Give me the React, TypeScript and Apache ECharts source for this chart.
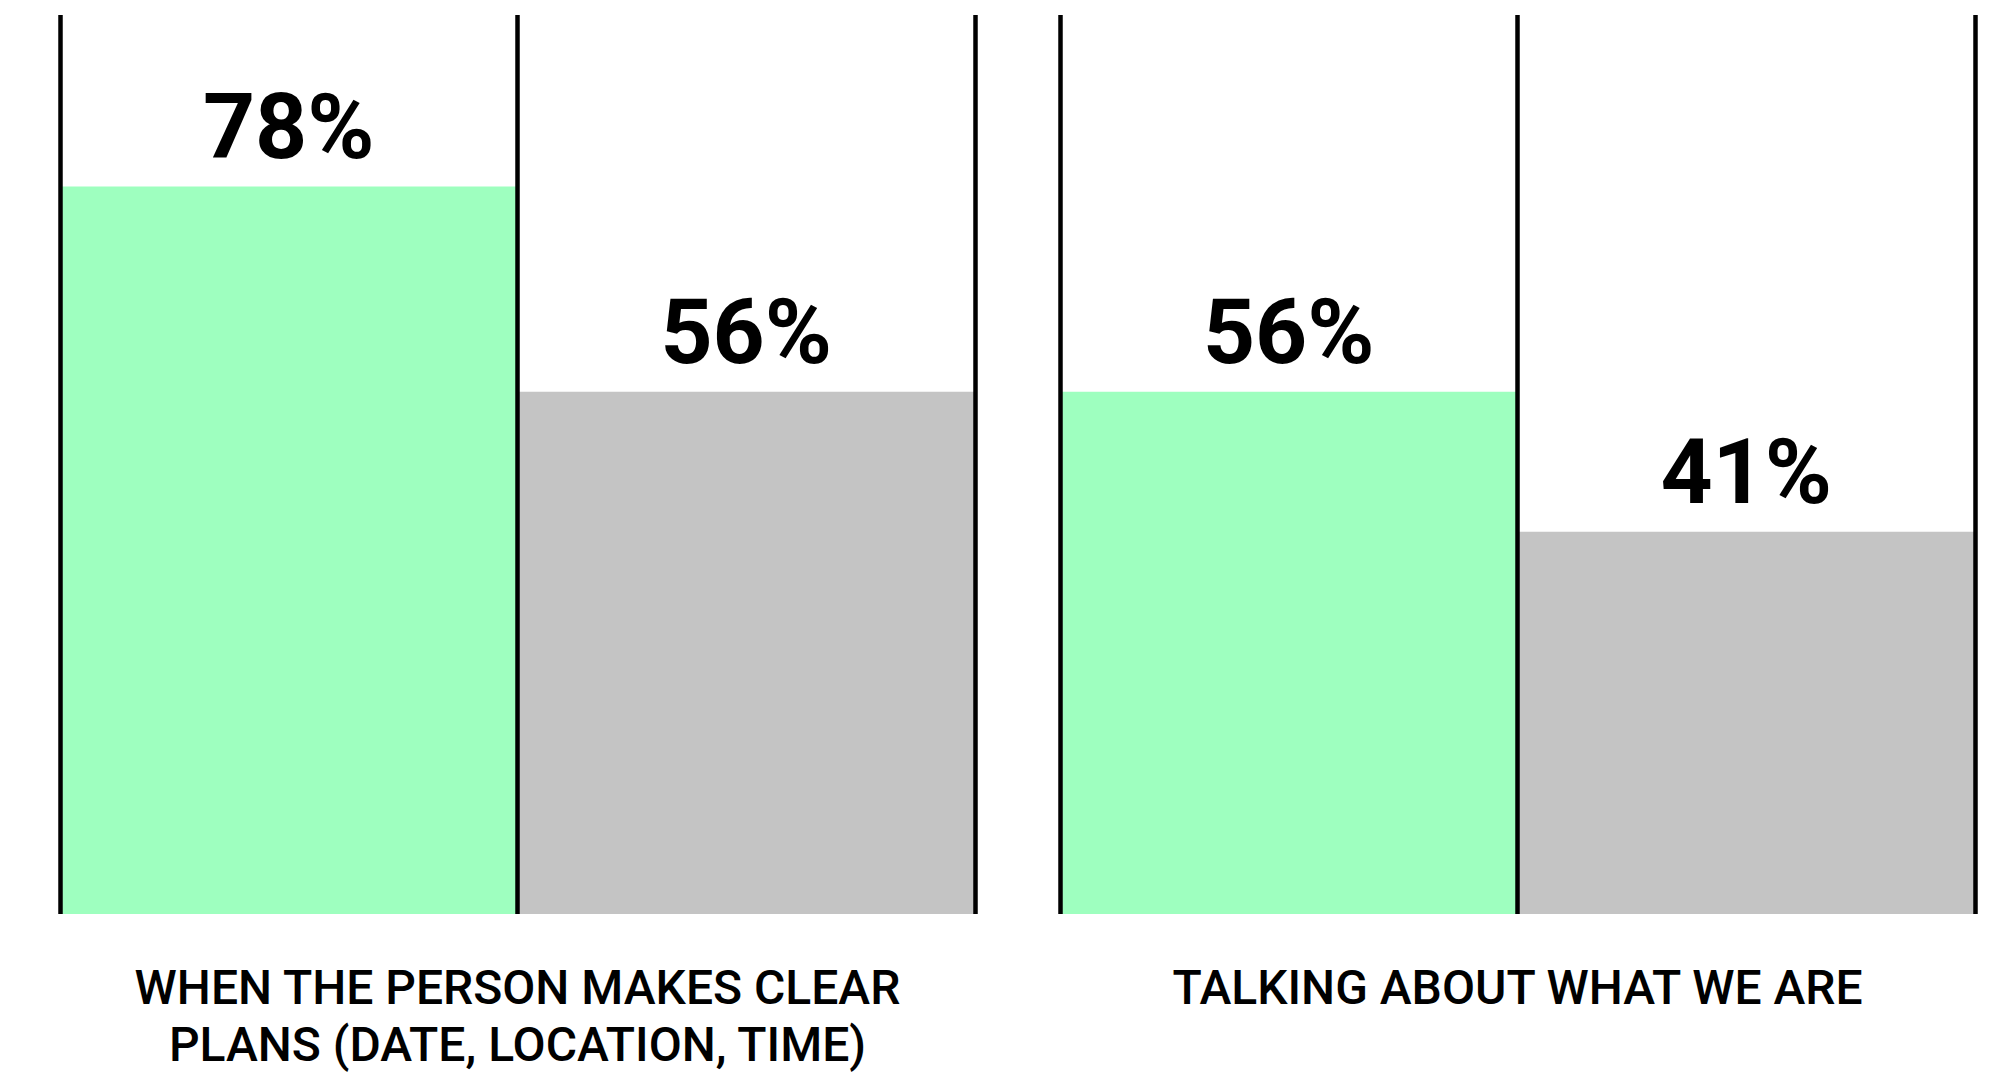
import React, { useEffect, useRef } from "react";
import * as echarts from "echarts";

const panelTitles = [
  "WHEN THE PERSON MAKES CLEAR\nPLANS (DATE, LOCATION, TIME)",
  "TALKING ABOUT WHAT WE ARE",
];
const barCategories = ["Highlighted", "Comparison"];
const highlightValues = [78, 56];
const comparisonValues = [56, 41];

const GREEN = "#9effbf";
const GREY = "#c4c4c4";
const FONT = "Roboto";

export default function App() {
  const ref = useRef<HTMLDivElement>(null);

  useEffect(() => {
    if (!ref.current) return;
    const chart = echarts.init(ref.current, undefined, { renderer: "svg" });

    const grids = [
      { left: 60, top: 15, width: 915, height: 899 },
      { left: 1060, top: 15, width: 915, height: 899 },
    ];

    const xAxes = panelTitles.map((title, i) => ({
      type: "category",
      gridIndex: i,
      data: barCategories,
      boundaryGap: true,
      z: 10,
      axisLine: { show: false },
      axisTick: { show: false },
      axisLabel: { show: false },
      splitLine: {
        show: true,
        interval: 0,
        lineStyle: { color: "#000", width: 4.5 },
      },
      name: title,
      nameLocation: "middle",
      nameGap: 45,
      nameTextStyle: {
        fontFamily: FONT,
        fontSize: 48,
        fontWeight: 500,
        color: "#000",
        lineHeight: 57,
        align: "center",
      },
    }));

    const yAxes = panelTitles.map((_, i) => ({
      type: "value",
      gridIndex: i,
      min: 0,
      max: 96.4,
      show: false,
      splitLine: { show: false },
    }));

    const series = panelTitles.map((_, i) => ({
      type: "bar",
      xAxisIndex: i,
      yAxisIndex: i,
      barWidth: "100%",
      barCategoryGap: 0,
      z: 2,
      data: [
        { value: highlightValues[i], itemStyle: { color: GREEN } },
        { value: comparisonValues[i], itemStyle: { color: GREY } },
      ],
      label: {
        show: true,
        position: "top",
        distance: 14,
        formatter: "{c}%",
        fontFamily: FONT,
        fontSize: 91,
        fontWeight: "bold",
        color: "#000",
      },
    }));

    chart.setOption({
      animation: false,
      backgroundColor: "#fff",
      grid: grids,
      xAxis: xAxes,
      yAxis: yAxes,
      series,
    });

    return () => chart.dispose();
  }, []);

  return (
    <div
      ref={ref}
      style={{ position: "fixed", left: 0, top: 0, width: 1999, height: 1086 }}
    />
  );
}
